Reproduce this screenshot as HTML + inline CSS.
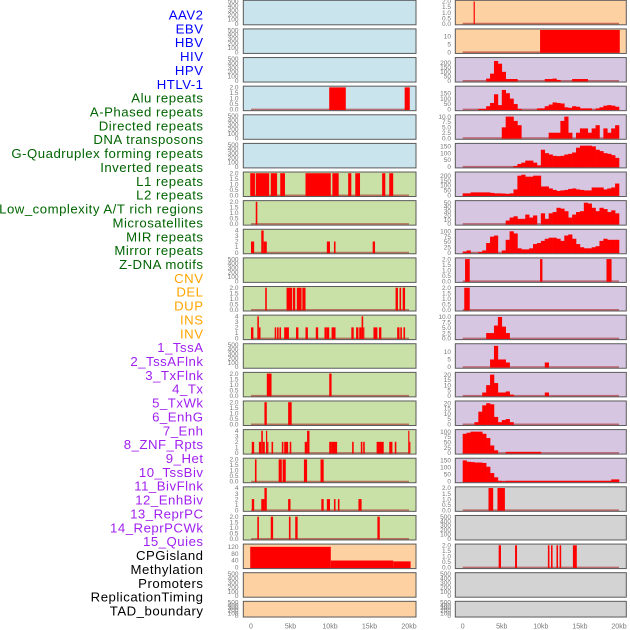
<!DOCTYPE html>
<html><head><meta charset="utf-8"><style>
html,body{margin:0;padding:0;background:#fff;}
svg{display:block;font-family:"Liberation Sans",Arial,sans-serif;}
</style></head><body>
<svg id="chart" width="630" height="630" viewBox="0 0 630 630" xmlns="http://www.w3.org/2000/svg"></svg>
<script>
// ---- data ----
const trackLabels = ["AAV2","EBV","HBV","HIV","HPV","HTLV-1","Alu repeats","A-Phased repeats","Directed repeats","DNA transposons","G-Quadruplex forming repeats","Inverted repeats","L1 repeats","L2 repeats","Low_complexity A/T rich regions","Microsatellites","MIR repeats","Mirror repeats","Z-DNA motifs","CNV","DEL","DUP","INS","INV","1_TssA","2_TssAFlnk","3_TxFlnk","4_Tx","5_TxWk","6_EnhG","7_Enh","8_ZNF_Rpts","9_Het","10_TssBiv","11_BivFlnk","12_EnhBiv","13_ReprPC","14_ReprPCWk","15_Quies","CPGisland","Methylation","Promoters","ReplicationTiming","TAD_boundary"];
const labelGroups = [6,13,5,15,5];
const groupColors = ["#0000ff","#006400","#ffa500","#a020f0","#000000"];
const xTicks = [0,5,10,15,20];
const xTickLabels = ["0","5kb","10kb","15kb","20kb"];

// left column bar tracks: [startKb, endKb, value]
const L3 = [[9.9,12.0,2],[19.45,20.1,2]];
const L6 = [[-0.1,0.5,2],[0.6,2.3,2],[2.5,3.3,2],[3.7,4.3,2],[6.9,10.1,2],[10.3,11.1,2],[12.3,12.7,2],[13.2,13.8,2],[16.6,17.0,2],[17.5,18.0,2]];
const L7 = [[0.6,0.8,2]];
const L8 = [[0,0.4,2],[1.3,1.6,4],[1.6,2.0,2],[9.6,10.0,2],[10.5,10.7,2],[15.4,15.7,2]];
const L10 = [[1.8,2.0,2],[4.5,5.2,2],[5.3,5.6,2],[5.8,6.4,2],[6.5,6.9,2],[18.3,18.6,2],[18.8,19.0,2],[19.2,19.5,2]];
const L11 = [[0,0.3,2],[0.8,1.0,4],[1.0,1.2,2],[3.0,3.2,2],[3.3,3.5,2],[3.6,3.8,2],[4.2,4.8,2],[5.7,6.0,2],[6.9,7.2,2],[8.2,8.5,2],[9.3,9.6,2],[9.6,9.9,2],[10.2,10.7,2],[12.7,13.0,2],[13.3,13.6,2],[13.7,14.0,2],[14.0,14.2,4],[14.2,14.35,2],[15.5,16.0,2],[16.2,16.5,2],[18.5,18.8,2],[18.9,19.1,2],[19.3,19.5,2]];
const L13 = [[2.0,2.6,2],[9.9,10.2,2]];
const L14 = [[1.7,2.0,2],[4.7,5.15,2]];
const L15 = [[0.1,0.4,2],[1.0,1.3,2],[1.3,1.5,4],[1.5,1.75,2],[1.9,2.05,4],[2.05,2.2,2],[2.6,2.8,2],[3.9,4.1,2],[4.2,4.7,2],[4.9,5.1,2],[6.8,7.1,2],[7.1,7.4,4],[9.9,10.2,2],[10.2,10.9,2],[12.8,13.0,2],[13.9,14.1,2],[14.2,14.4,2],[15.9,16.8,2],[17.5,17.9,2],[18.2,18.4,2],[19.9,20.05,4],[20.05,20.15,2]];
const L16 = [[0.5,0.7,2],[3.5,3.9,2],[4.0,4.4,2],[6.7,7.1,2],[8.8,9.2,2]];
const L17 = [[0.1,0.4,2],[1.3,1.7,2],[1.7,2.0,4],[4.7,5.0,2],[8.9,9.2,2],[9.6,10.0,2],[10.5,10.7,2],[11.0,11.2,2],[13.6,14.0,2]];
const L18 = [[0.8,1.0,2],[2.5,2.8,2],[4.8,5.0,2],[5.6,5.9,2],[16.0,16.3,2]];
const L19 = [[-0.1,10.1,120],[10.1,18.0,40],[18.0,20.2,35]];

// right column bar tracks
const R0 = [[1.4,1.55,2]];
const R1 = [[9.9,20.1,14]];
const R9 = [[0.3,0.9,2],[9.9,10.2,2],[18.4,19.05,2]];
const R10 = [[0.2,0.9,2]];
const R17 = [[3.3,3.9,2],[4.45,5.4,2]];
const R19 = [[4.6,4.9,2],[6.7,6.95,2],[10.9,11.1,2],[11.3,11.5,2],[12.0,12.2,2],[12.4,12.6,2],[14.1,14.6,2]];

// right column histogram tracks: 0.5kb bins, 40 values
const R2h = [0,0,0,0,0,0,25,80,220,190,100,20,20,20,0,0,0,0,0,0,0,20,20,25,10,0,0,0,20,20,20,20,0,0,0,0,0,0,0,0];
const R3h = [0,0,0,0,5,5,30,60,140,40,180,150,100,50,5,0,0,0,0,10,10,30,45,65,60,55,20,15,30,25,10,10,10,0,10,20,35,40,35,25];
const R4h = [0,0,0,0,0,0,0,0,0,0,5,10,10,8,6,0,0,0,0,0,0,0,2.5,2.5,2.5,8,10,2.5,0,2.5,4.5,4.5,2.5,4.5,6,0,4.5,2.5,4.5,6];
const R5h = [0,0,0,0,0,0,0,0,0,0,0,0,0,5,20,30,45,45,30,10,125,100,90,80,78,80,90,95,105,140,155,155,155,150,125,115,100,95,85,65];
const R6h = [20,20,30,30,30,30,30,25,20,20,18,15,20,60,200,210,190,190,200,200,90,90,70,55,45,50,55,65,70,60,55,50,50,80,80,80,60,70,80,120];
const R7h = [0,0,0,0,0,0,0,0,0,0,0,8,15,18,12,12,22,15,20,0,25,12,25,28,38,36,30,15,22,28,30,50,48,38,30,38,35,28,32,25];
const R8h = [5,10,0,0,3,10,45,75,80,0,10,60,100,90,20,15,15,20,40,45,55,65,70,70,65,55,80,85,65,40,25,20,20,25,30,55,65,60,60,60];
const R11h = [0,0,0,0,0,0,2.5,2.5,6,10,5.5,2.5,0,0,0,0,0,0,0,0,0,0,0,0,0,0,0,0,0,0,0,0,0,0,0,0,0,0,0,0];
const R12h = [0,0,0,0,0,0,0,5,14,5,5,3,0,0,0,0,0,0,0,0,0,3,0,0,0,0,0,0,0,0,0,0,0,0,0,0,0,0,0,0];
const R13h = [0,0,0,0,0,3,10,20,12,3,3,4,1,0,0,0,0,0,0,0,0,3,0,0,0,0,0,0,0,0,0,0,0,0,0,0,0,0,0,0];
const R14h = [0,0,0,2,12,18,20,19,7,2,4,5,2,0,0,0,0,0,0,0,0,0,0,0,0,0,0,0,0,0,0,0,0,0,0,0,0,0,0,0];
const R15h = [90,95,100,100,100,90,70,35,12,0,0,5,5,5,5,5,5,5,5,5,0,0,0,0,0,0,0,0,0,0,0,0,0,0,0,0,0,0,0,0];
const R16h = [150,140,138,135,135,132,105,60,30,5,2,5,5,5,5,5,5,5,5,5,5,5,5,5,5,5,5,5,5,5,5,5,5,5,5,5,5,5,15,15];

const EMPTY = [0,100,200,300,400,500];
const BIN = [0,0.5,1,1.5,2];
const QUAD = [0,1,2,3,4];

// ---- layout ----
const svg = document.getElementById('chart');
const NS = 'http://www.w3.org/2000/svg';
const COLS = [{x0:243.3,x1:416,z0:251,z20:409,tx:238.5},{x0:455.3,x1:626.3,z0:462.7,z20:619,tx:451}];
const PITCH = 28.62, PH = 24.5;
const BG = {blue:'#c9e4ec',green:'#c9e0a7',orange:'#fdd1a2',purple:'#d6c6e2',gray:'#d3d3d3'};

function mk(tag, attrs){const e=document.createElementNS(NS,tag);for(const k in attrs)e.setAttribute(k,attrs[k]);return e;}
function fmt(t, ticks){ if(ticks===BIN) return t.toFixed(1); if(ticks.some(v=>v%1!==0)) return t.toFixed(1); return String(t);}

const panels = [];
function P(col,row,bg,dmax,ticks,bars,hist){panels.push({col,row,bg,dmax,ticks,bars,hist});}
for(let r=0;r<6;r++) P(0,r,'blue',500,EMPTY,null,null);
panels[3]={col:0,row:3,bg:'blue',dmax:2,ticks:BIN,bars:L3};
P(0,6,'green',2,BIN,L6);P(0,7,'green',2,BIN,L7);P(0,8,'green',4,QUAD,L8);P(0,9,'green',500,EMPTY,null);
P(0,10,'green',2,BIN,L10);P(0,11,'green',4,QUAD,L11);P(0,12,'green',500,EMPTY,null);P(0,13,'green',2,BIN,L13);
P(0,14,'green',2,BIN,L14);P(0,15,'green',4,QUAD,L15);P(0,16,'green',2,BIN,L16);P(0,17,'green',4,QUAD,L17);P(0,18,'green',2,BIN,L18);
P(0,19,'orange',129,[0,40,80,120],L19);P(0,20,'orange',500,EMPTY,null);P(0,21,'orange',500,EMPTY,null);
P(1,0,'orange',2,BIN,R0);P(1,1,'orange',13.9,[0,5,10],R1);
P(1,2,'purple',245,[0,50,100,150,200],null,R2h);P(1,3,'purple',204,[0,50,100,150],null,R3h);
P(1,4,'purple',10.3,[0,2.5,5,7.5,10],null,R4h);P(1,5,'purple',163,[0,50,100,150],null,R5h);
P(1,6,'purple',225,[0,50,100,150,200],null,R6h);P(1,7,'purple',52,[0,10,20,30,40,50],null,R7h);
P(1,8,'purple',104,[0,25,50,75,100],null,R8h);P(1,9,'purple',2,BIN,R9);P(1,10,'purple',2,BIN,R10);
P(1,11,'purple',10.3,[0,2.5,5,7.5,10],null,R11h);P(1,12,'purple',14.6,[0,5,10],null,R12h);
P(1,13,'purple',21,[0,5,10,15,20],null,R13h);P(1,14,'purple',21,[0,5,10,15,20],null,R14h);
P(1,15,'purple',104,[0,25,50,75,100],null,R15h);P(1,16,'purple',157,[0,50,100,150],null,R16h);
P(1,17,'gray',2,BIN,R17);P(1,18,'gray',500,EMPTY,null);P(1,19,'gray',2,BIN,R19);P(1,20,'gray',500,EMPTY,null);P(1,21,'gray',500,EMPTY,null);

panels.forEach(p=>{
  const c=COLS[p.col];
  const top=p.row*PITCH+0.3;
  const h=p.row===21?15.7:PH;
  const bottom=top+h;
  const xs=kb=>c.z0+kb/20*(c.z20-c.z0);
  const ys=v=>bottom-1.2-v/p.dmax*(h-2.4);
  const g=mk('g',{});
  
  
  const bg=mk('rect',{x:c.x0,y:top,width:c.x1-c.x0,height:h,fill:BG[p.bg]});
  
  
  g.appendChild(bg);
  const hasData=p.bars||p.hist;
  if(hasData){
    const bl=mk('line',{x1:xs(0),x2:xs(20),y1:ys(0),y2:ys(0),stroke:'rgba(170,40,40,0.6)','stroke-width':1.6});
    
    
    g.appendChild(bl);
  }
  if(p.bars){
    p.bars.forEach(b=>{
      const x1=xs(b[0]),x2=xs(b[1]);
      const r=mk('rect',{x:x1,y:ys(b[2]),width:Math.max(1,x2-x1),height:ys(0)-ys(b[2])+0.6,fill:'#ff0000'});
      
      
      g.appendChild(r);
    });
  }
  if(p.hist){
    p.hist.forEach((v,i)=>{
      if(v<=0) return;
      const x1=xs(i*0.5),x2=xs(i*0.5+0.5);
      const r=mk('rect',{x:x1,y:ys(v),width:x2-x1+0.3,height:ys(0)-ys(v)+0.6,fill:'#ff0000'});
      
      
      g.appendChild(r);
    });
  }
  const fr=mk('rect',{x:c.x0,y:top,width:c.x1-c.x0,height:h,fill:'none',stroke:'#5a5a5a','stroke-width':1});
  
  
  g.appendChild(fr);
  p.ticks.forEach(t=>{
    const tx=mk('text',{x:c.tx,y:ys(t)+2.2,'font-size':6.5,fill:'#777','text-anchor':'end'});
    
    
    tx.textContent=fmt(t,p.ticks);
    g.appendChild(tx);
  });
  svg.appendChild(g);
});

// x axis labels
COLS.forEach((c,ci)=>{
  xTicks.forEach((t,i)=>{
    const tx=mk('text',{x:c.z0+t/20*(c.z20-c.z0),y:628.3,'font-size':7,fill:'#777','text-anchor':'middle'});
    
    
    tx.textContent=xTickLabels[i];
    svg.appendChild(tx);
  });
});

// track labels
let idx=0;
labelGroups.forEach((n,gi)=>{
  for(let k=0;k<n;k++){
    const tx=mk('text',{x:203.5,y:19.5+idx*13.86,'font-size':13.2,fill:groupColors[gi],'text-anchor':'end','letter-spacing':'0.5'});
    
    
    tx.textContent=trackLabels[idx];
    svg.appendChild(tx);
    idx++;
  }
});
</script>
</body></html>
